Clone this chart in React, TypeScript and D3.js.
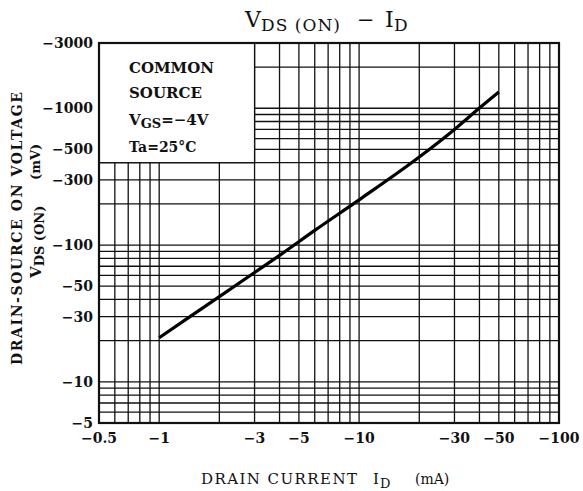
import React from "react";
import * as d3 from "d3";

// Drain current |ID| (mA) and VDS(ON) magnitude (mV)
const currentMA = [1, 2, 3, 4, 6, 10, 20, 30, 40, 50];
const voltageMV = [21, 42, 63, 84, 128, 214, 440, 700, 1004, 1315];

const xTickValues = [0.5, 1, 3, 5, 10, 30, 50, 100];
const yTickValues = [5, 10, 30, 50, 100, 300, 500, 1000, 3000];

const legendLines = ["COMMON", "SOURCE"];

const W = 583;
const H = 491;
const M = { left: 99, right: 24, top: 43, bottom: 68 };
const FONT = "'DejaVu Serif', serif";

export default function App() {
  const x = d3.scaleLog().domain([0.5, 100]).range([M.left, W - M.right]);
  const y = d3.scaleLog().domain([5, 3000]).range([H - M.bottom, M.top]);
  const xGrid = x.ticks();
  const yGrid = y.ticks();
  const [x0, x1] = x.range();
  const [y0, y1] = y.range();

  const line = d3
    .line<number>()
    .x((_, i) => x(currentMA[i]))
    .y((d) => y(d))
    .curve(d3.curveMonotoneX);

  const fmt = (v: number) => "\u2212" + String(v);

  return (
    <svg
      width={W}
      height={H}
      style={{ position: "absolute", left: 0, top: 0, background: "#fff" }}
      fontFamily={FONT}
    >
      <rect width={W} height={H} fill="#fff" />
      {/* grid */}
      <g stroke="#111" strokeWidth={1.3}>
        {xGrid.map((v, i) => (
          <line key={"x" + i} x1={x(v)} x2={x(v)} y1={y1} y2={y0} />
        ))}
        {yGrid.map((v, i) => (
          <line key={"y" + i} x1={x0} x2={x1} y1={y(v)} y2={y(v)} />
        ))}
      </g>
      {/* legend box masking grid */}
      <rect
        x={x(0.5)}
        y={y(3000)}
        width={x(3) - x(0.5)}
        height={y(400) - y(3000)}
        fill="#fff"
        stroke="#111"
        strokeWidth={1.3}
      />
      {/* frame */}
      <rect
        x={x0}
        y={y1}
        width={x1 - x0}
        height={y0 - y1}
        fill="none"
        stroke="#111"
        strokeWidth={2.2}
      />
      {/* curve */}
      <path d={line(voltageMV) || ""} fill="none" stroke="#000" strokeWidth={3.2} />

      {/* legend text */}
      <g fontSize={15} fontWeight="bold" fill="#111">
        {legendLines.map((t, i) => (
          <text key={t} x={129} y={73 + i * 25}>
            {t}
          </text>
        ))}
        <text x={129} y={125}>
          V
          <tspan fontSize={13} dy={3}>GS</tspan>
          <tspan dy={-3}>{"=\u22124V"}</tspan>
        </text>
        <text x={129} y={152} fontSize={14}>
          {"Ta=25\u00B0C"}
        </text>
      </g>

      {/* y tick labels */}
      <g fontSize={14} fontWeight="bold" fill="#111" textAnchor="end">
        {yTickValues.map((v) => (
          <text key={v} x={x0 - 6} y={y(v) + 5}>
            {fmt(v)}
          </text>
        ))}
      </g>
      {/* x tick labels */}
      <g fontSize={14} fontWeight="bold" fill="#111" textAnchor="middle">
        {xTickValues.map((v) => (
          <text key={v} x={x(v)} y={y0 + 20}>
            {fmt(v)}
          </text>
        ))}
      </g>

      {/* title */}
      <g fill="#111">
        <text x={245} y={27} fontSize={22}>V</text>
        <text x={261} y={31} fontSize={17} textLength={79} lengthAdjust="spacing">
          DS (ON)
        </text>
        <text x={357} y={27} fontSize={21}>{"\u2212"}</text>
        <text x={385} y={27} fontSize={22}>I</text>
        <text x={394} y={31} fontSize={17}>D</text>
      </g>

      {/* x axis title */}
      <g fill="#111">
        <text x={201} y={484} fontSize={15} textLength={156} lengthAdjust="spacing">
          DRAIN CURRENT
        </text>
        <text x={373} y={484} fontSize={15}>I</text>
        <text x={380} y={488} fontSize={13}>D</text>
        <text x={415} y={484} fontSize={14}>(mA)</text>
      </g>

      {/* y axis title */}
      <g fill="#111" fontWeight="bold">
        <text
          transform="translate(22,365) rotate(-90)"
          fontSize={14}
          textLength={273}
          lengthAdjust="spacing"
        >
          DRAIN-SOURCE ON VOLTAGE
        </text>
        <text transform="translate(41,278) rotate(-90)" fontSize={15}>
          V
          <tspan fontSize={13} dy={3}>DS (ON)</tspan>
        </text>
        <text transform="translate(40,180) rotate(-90)" fontSize={13}>
          (mV)
        </text>
      </g>
    </svg>
  );
}
